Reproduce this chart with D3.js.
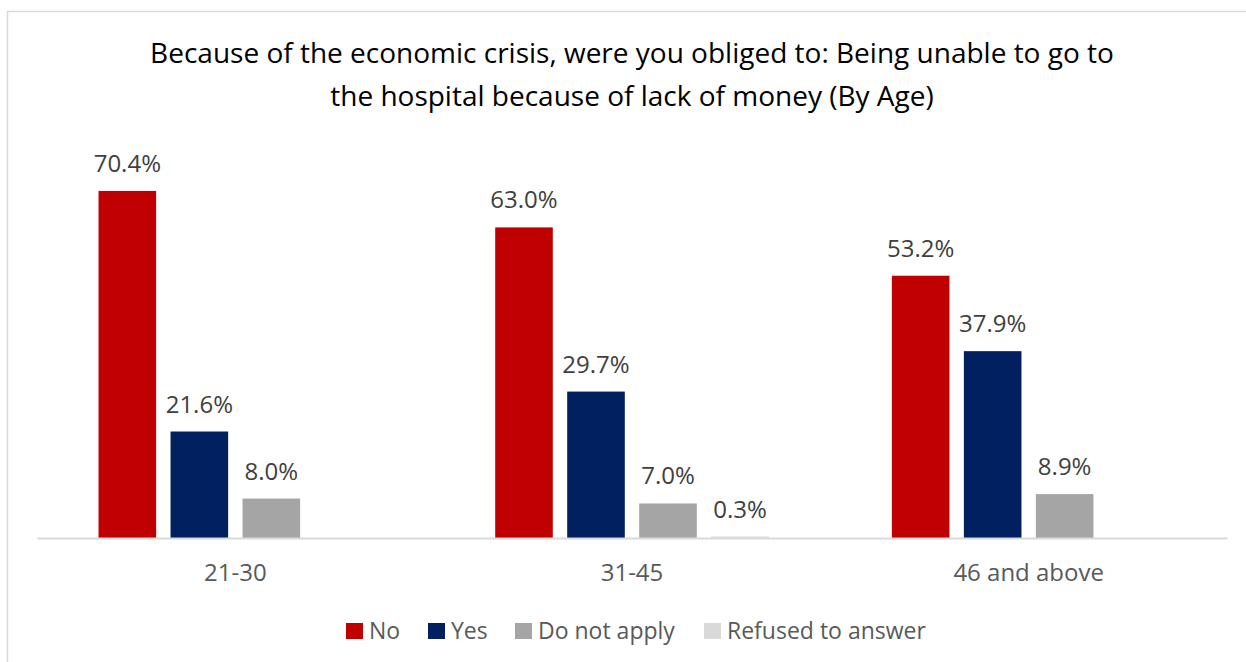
<!DOCTYPE html>
<html><head><meta charset="utf-8">
<script src="https://cdn.jsdelivr.net/npm/d3@7"></script>
<style>body{margin:0;background:#fff}svg{display:block}</style>
</head><body>
<svg id="c" width="1246" height="662"></svg>
<script>
const categories = ["21-30", "31-45", "46 and above"];
const series = ["No", "Yes", "Do not apply", "Refused to answer"];
const valuesNo = [70.4, 63.0, 53.2];
const valuesYes = [21.6, 29.7, 37.9];
const valuesDoNotApply = [8.0, 7.0, 8.9];
const valuesRefused = [null, 0.3, null];
const colors = ["#C00000", "#002060", "#A5A5A5", "#D9D9D9"];
const titleLines = ["Because of the economic crisis, were you obliged to: Being unable to go to",
                    "the hospital because of lack of money (By Age)"];

const seriesValues = [valuesNo, valuesYes, valuesDoNotApply, valuesRefused];
const svg = d3.select("#c");

// frame
svg.append("rect").attr("x", 7.5).attr("y", 11.5).attr("width", 1260).attr("height", 700)
  .attr("fill", "#fff").attr("stroke", "#D9D9D9").attr("stroke-width", 1.5);

// title
const title = svg.append("text").attr("text-anchor", "middle")
  .attr("font-family", "'Open Sans', sans-serif")
  .attr("font-size", 28).attr("fill", "#000");
titleLines.forEach((t, i) => title.append("tspan").attr("x", 632).attr("y", 63 + i * 43).text(t));

const x0 = d3.scaleBand().domain(categories).range([37, 1227]);
const x1 = d3.scaleBand().domain(series)
  .range([x0.bandwidth() / 2 - 144, x0.bandwidth() / 2 + 144]).paddingInner(0.2).paddingOuter(0.1);
const y = d3.scaleLinear().domain([0, 80]).range([538, 538 - 80 * 4.93]);

const rows = [];
categories.forEach((c, ci) => series.forEach((s, si) => {
  const v = seriesValues[si][ci];
  if (v != null) rows.push({c, s, si, v});
}));

const g = svg.append("g");
g.selectAll("rect.bar").data(rows).join("rect").attr("class", "bar")
  .attr("x", d => x0(d.c) + x1(d.s)).attr("width", x1.bandwidth())
  .attr("y", d => y(d.v)).attr("height", d => y(0) - y(d.v))
  .attr("fill", d => colors[d.si]);

g.selectAll("text.val").data(rows).join("text").attr("class", "val")
  .attr("x", d => x0(d.c) + x1(d.s) + x1.bandwidth() / 2)
  .attr("y", d => y(d.v) - 19)
  .attr("text-anchor", "middle").attr("font-family", "'Open Sans', sans-serif")
  .attr("font-size", 24).attr("fill", "#404040")
  .text(d => d.v.toFixed(1) + "%");

// x axis
const xAxis = d3.axisBottom(x0).tickSize(0).tickPadding(26);
const ax = svg.append("g").attr("transform", `translate(0,${y(0)})`).call(xAxis);
ax.select(".domain").attr("stroke", "#D9D9D9").attr("stroke-width", 2);
ax.selectAll("text").attr("font-family", "'Open Sans', sans-serif").attr("font-size", 24).attr("fill", "#595959");

// legend
const legendX = [346, 428, 515, 704];
const lg = svg.append("g");
series.forEach((s, i) => {
  lg.append("rect").attr("x", legendX[i]).attr("y", 623).attr("width", 17).attr("height", 16).attr("fill", colors[i]);
  lg.append("text").attr("x", legendX[i] + 23).attr("y", 639)
    .attr("font-family", "'Open Sans', sans-serif").attr("font-size", 23).attr("fill", "#595959").text(s);
});
</script>
</body></html>
